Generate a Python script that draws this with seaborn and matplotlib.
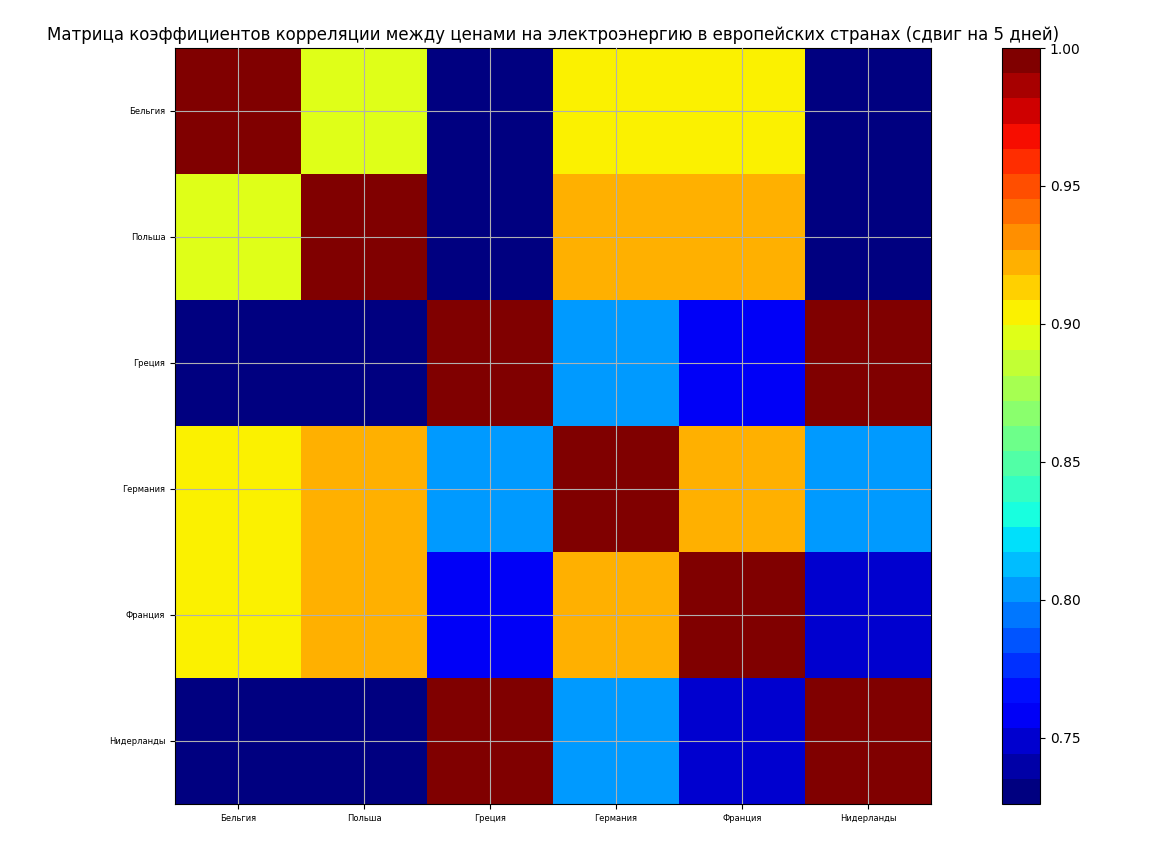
import numpy as np
import pandas as pd
import matplotlib
matplotlib.use("Agg")
import matplotlib.pyplot as plt
import seaborn as sns

countries = ["Бельгия", "Польша", "Греция", "Германия", "Франция", "Нидерланды"]

row_belgium     = [1.000, 0.895, 0.726, 0.905, 0.905, 0.730]
row_poland      = [0.895, 1.000, 0.730, 0.922, 0.922, 0.730]
row_greece      = [0.726, 0.730, 1.000, 0.804, 0.759, 0.996]
row_germany     = [0.905, 0.922, 0.804, 1.000, 0.922, 0.804]
row_france      = [0.905, 0.922, 0.759, 0.922, 1.000, 0.749]
row_netherlands = [0.730, 0.730, 0.996, 0.804, 0.749, 1.000]

title = "Матрица коэффициентов корреляции между ценами на электроэнергию в европейских странах (сдвиг на 5 дней)"

df = pd.DataFrame([row_belgium, row_poland, row_greece, row_germany, row_france, row_netherlands],
                  index=countries, columns=countries)

W, H = 1151, 846
fig = plt.figure(figsize=(W / 100, H / 100), dpi=100)
ax = fig.add_axes([175 / W, (H - 804) / H, 756 / W, 756 / H])
cax = fig.add_axes([1002 / W, (H - 804) / H, 38 / W, 756 / H])

cmap = matplotlib.colormaps["jet"].resampled(30)
sns.heatmap(df, ax=ax, cbar_ax=cax, cmap=cmap, vmin=df.values.min(), vmax=1.0,
            square=False, xticklabels=countries, yticklabels=countries)

for s in ax.spines.values():
    s.set_visible(True)
    s.set_color("black")
    s.set_linewidth(0.8)

ax.set_axisbelow(False)
ax.grid(True, color="#b0b0b0", linewidth=0.8, zorder=3)
ax.tick_params(axis="both", labelsize=6, length=3.5, width=0.8)
ax.set_xticklabels(countries, rotation=0, fontsize=6)
ax.set_yticklabels(countries, rotation=0, fontsize=6)
ax.set_xlabel("")
ax.set_ylabel("")

cax.tick_params(labelsize=10)
cb = ax.collections[0].colorbar
cb.set_ticks([0.75, 0.80, 0.85, 0.90, 0.95, 1.00])
cb.outline.set_visible(True)
cb.outline.set_edgecolor("black")
cb.outline.set_linewidth(0.8)

fig.text(553 / W, 1 - 35 / H, title, ha="center", va="center", fontsize=12)

fig.savefig("out.png", dpi=100)
